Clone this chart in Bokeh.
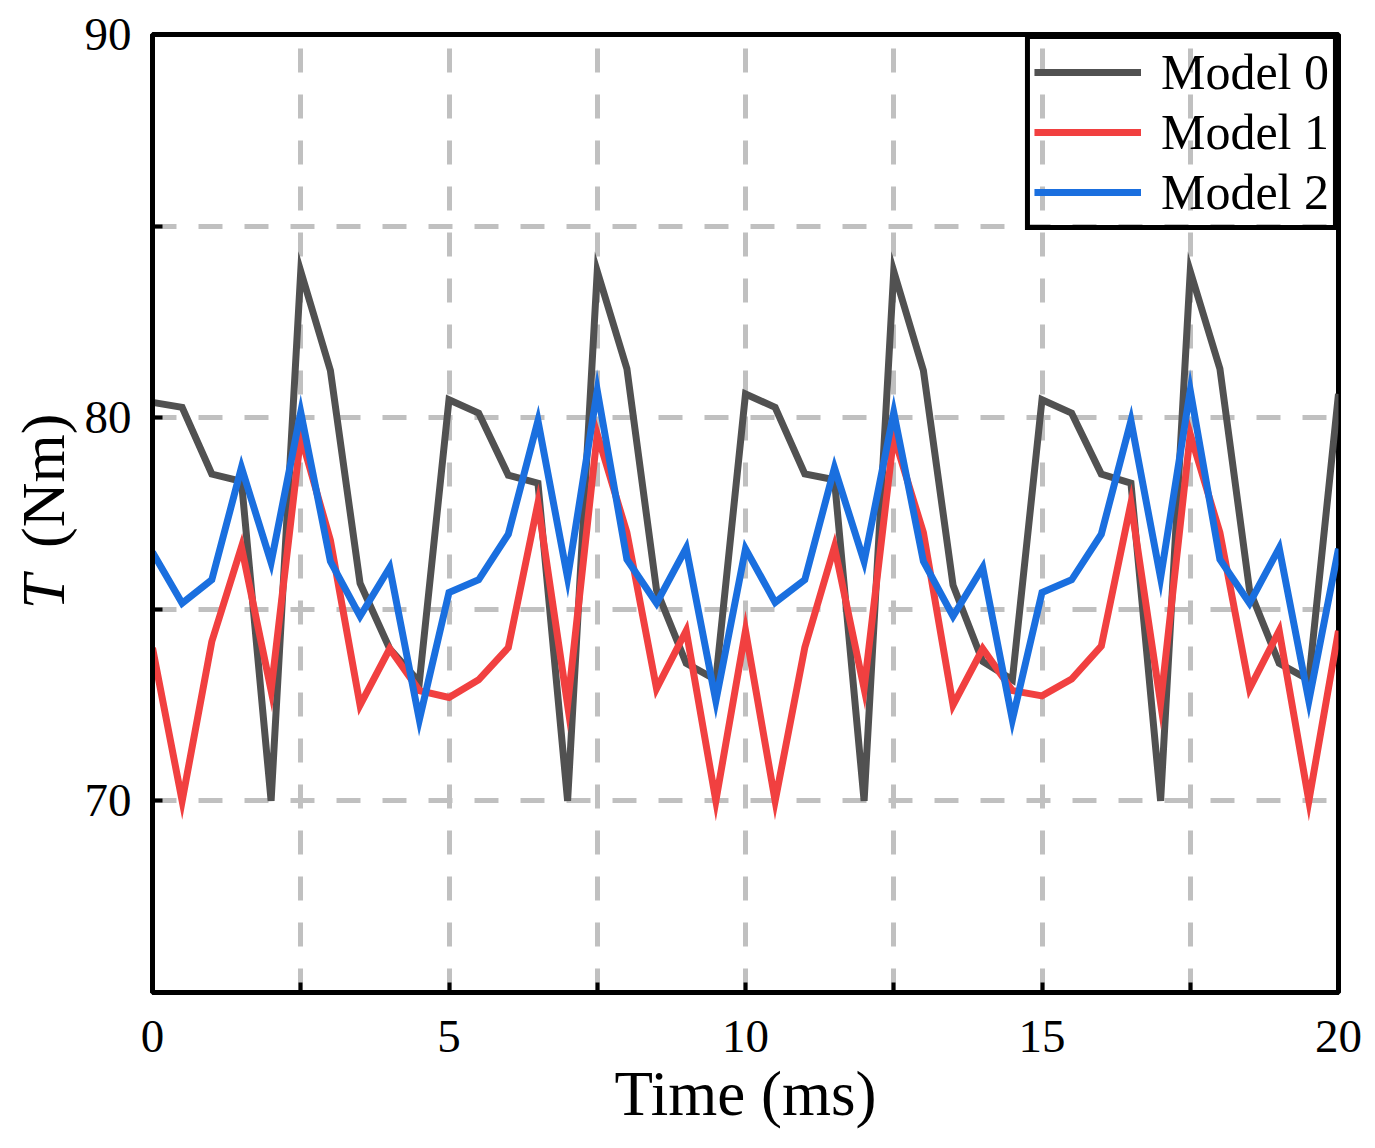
from math import pi

from bokeh.core.properties import value
from bokeh.embed import file_html
from bokeh.layouts import row
from bokeh.models import FixedTicker, Legend, LegendItem, Range1d
from bokeh.plotting import figure
from bokeh.resources import INLINE

FONT = "Liberation Serif"

time_ms = [0, 0.5, 1, 1.5, 2, 2.5, 3, 3.5, 4, 4.5,
           5, 5.5, 6, 6.5, 7, 7.5, 8, 8.5, 9, 9.5,
           10, 10.5, 11, 11.5, 12, 12.5, 13, 13.5, 14, 14.5,
           15, 15.5, 16, 16.5, 17, 17.5, 18, 18.5, 19, 19.5, 20]

model0 = [80.40, 80.27, 78.53, 78.34, 70.00, 83.82, 81.23, 75.68, 73.97, 73.10,
          80.47, 80.12, 78.50, 78.29, 70.00, 83.82, 81.28, 75.50, 73.59, 73.16,
          80.62, 80.27, 78.53, 78.38, 70.00, 83.82, 81.23, 75.63, 73.64, 73.16,
          80.47, 80.12, 78.53, 78.29, 70.00, 83.82, 81.28, 75.50, 73.59, 73.16, 80.62]

model1 = [73.99, 70.00, 74.16, 76.63, 72.88, 79.52, 76.80, 72.50, 73.97, 72.88,
          72.70, 73.16, 74.00, 77.77, 72.50, 79.57, 77.00, 72.93, 74.44, 70.00,
          74.44, 70.00, 74.00, 76.63, 72.93, 79.52, 77.00, 72.50, 73.97, 72.88,
          72.74, 73.18, 74.04, 77.77, 72.55, 79.57, 77.00, 72.93, 74.44, 70.00, 74.44]

model2 = [76.49, 75.16, 75.77, 78.70, 76.22, 80.14, 76.25, 74.82, 76.09, 72.12,
          75.44, 75.77, 76.96, 79.92, 75.82, 80.71, 76.30, 75.16, 76.60, 72.61,
          76.58, 75.18, 75.77, 78.69, 76.25, 80.14, 76.25, 74.82, 76.09, 72.12,
          75.44, 75.77, 76.96, 79.92, 75.82, 80.71, 76.30, 75.16, 76.60, 72.61, 76.58]

series = [("Model 0", model0, "#515151"),
          ("Model 1", model1, "#F14040"),
          ("Model 2", model2, "#1A6FDF")]

x_ticks = [0, 2.5, 5, 7.5, 10, 12.5, 15, 17.5, 20]
y_ticks = [65, 70, 75, 80, 85, 90]
x_labels = {2.5: "", 7.5: "", 12.5: "", 17.5: ""}
y_labels = {65: "", 75: "", 85: ""}

LEFT_W = 80  # strip holding the rotated y label

p = figure(frame_width=1186, frame_height=958,
           x_range=Range1d(0, 20), y_range=Range1d(65, 90),
           output_backend="svg", toolbar_location=None,
           min_border_left=152 - LEFT_W, min_border_top=34,
           min_border_right=30, min_border_bottom=100)
p.background_fill_color = "white"
p.border_fill_color = "white"
p.outline_line_color = "black"
p.outline_line_width = 5

items = []
for name, vals, col in series:
    r = p.line(time_ms, vals, line_color=col, line_width=7, line_join="miter")
    items.append(LegendItem(label=name, renderers=[r]))

# axes
for ax in (p.xaxis[0], p.yaxis[0]):
    ax.axis_line_width = 5
    ax.axis_line_color = "black"
    ax.major_tick_in = 10
    ax.major_tick_out = 0
    ax.major_tick_line_width = 4
    ax.minor_tick_line_color = None
    ax.major_label_text_font = FONT
    ax.major_label_text_font_size = "47px"
    ax.major_label_text_color = "black"

p.xaxis.ticker = FixedTicker(ticks=x_ticks)
p.yaxis.ticker = FixedTicker(ticks=y_ticks)
p.xaxis.major_label_overrides = x_labels
p.yaxis.major_label_overrides = y_labels
p.xaxis.major_label_standoff = 28
p.yaxis.major_label_standoff = 21

p.xaxis.axis_label = "Time (ms)"
p.xaxis.axis_label_text_font = FONT
p.xaxis.axis_label_text_font_size = "63px"
p.xaxis.axis_label_text_font_style = "normal"
p.xaxis.axis_label_text_color = "black"
p.xaxis.axis_label_standoff = 4

# grid
p.xgrid.ticker = FixedTicker(ticks=x_ticks)
p.ygrid.ticker = FixedTicker(ticks=y_ticks)
for g in (p.xgrid[0], p.ygrid[0]):
    g.grid_line_color = "#C0C0C0"
    g.grid_line_width = 5
    g.grid_line_dash = "24 22"

legend = Legend(items=items, location="top_right", margin=0, padding=4,
                spacing=2, glyph_width=107, glyph_height=40, label_height=40,
                label_standoff=20, label_text_font=FONT,
                label_text_font_size="50px", label_text_color="black",
                background_fill_alpha=0,
                border_line_color="black", border_line_alpha=1,
                border_line_width=5)
p.add_layout(legend)

# y label strip: italic T followed by (Nm), same vertical scale as the plot
lab = figure(frame_width=LEFT_W, frame_height=958,
             x_range=Range1d(0, LEFT_W), y_range=Range1d(65, 90),
             output_backend="svg", toolbar_location=None,
             min_border_left=0, min_border_right=0, min_border_top=34,
             min_border_bottom=100)
lab.axis.visible = False
lab.grid.visible = False
lab.outline_line_color = None
lab.text(x=[42], y=[75.0], text=["T"], angle=pi / 2,
         text_font=value(FONT), text_font_style="italic",
         text_font_size="62px", text_align="left", text_baseline="middle")
lab.text(x=[42], y=[76.6], text=["(Nm)"], angle=pi / 2,
         text_font=value(FONT), text_font_size="62px",
         text_align="left", text_baseline="middle")

layout = row(lab, p, spacing=0)

open("out.html", "w").write(file_html(layout, INLINE))
